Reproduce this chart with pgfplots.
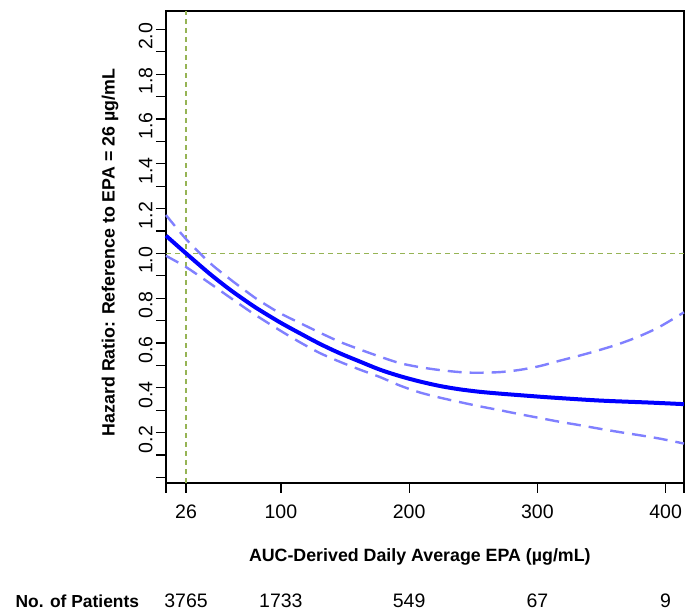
\documentclass[border=0pt]{standalone}
\usepackage{fontspec}
\setmainfont{Liberation Sans}
\usepackage{pgfplots}
\pgfplotsset{compat=1.18}
\definecolor{mainblue}{RGB}{0,0,255}
\definecolor{ciblue}{RGB}{128,128,255}
\definecolor{refgreen}{RGB}{150,180,85}
\begin{document}
\begin{tikzpicture}
\path[use as bounding box] (0,0) rectangle (685pt,612pt);
\begin{axis}[
  at={(166pt,129pt)}, anchor=south west,
  width=518pt, height=472pt, scale only axis,
  xmin=10.4, xmax=414.3, ymin=-0.025, ymax=2.082,
  clip=false,
  axis line style={line width=1.2pt},
  every tick/.style={black, line width=1.2pt},
  tick align=outside,
  major tick length=10pt,
  xtick pos=left, ytick pos=left,
  xtick={26,100,200,300,400},
  xticklabels={26,100,200,300,400},
  extra x ticks={10.4,414.3},
  extra x tick labels={},
  extra x tick style={grid=none},
  ytick={0,0.1,0.2,0.3,0.4,0.5,0.6,0.7,0.8,0.9,1.0,1.1,1.2,1.3,1.4,1.5,1.6,1.7,1.8,1.9,2.0},
  yticklabels={,,0.2,,0.4,,0.6,,0.8,,1.0,,1.2,,1.4,,1.6,,1.8,,2.0},
  ticklabel style={font=\fontsize{19.5}{21}\selectfont},
  xticklabel style={yshift=-8pt},
  yticklabel style={rotate=90, anchor=south, xshift=-7pt},
  label style={font=\fontsize{17.8}{20}\selectfont\bfseries},
  xlabel={AUC-Derived Daily Average EPA (µg/mL)},
  ylabel={Hazard Ratio: Reference to EPA = 26 µg/mL},
  xlabel style={at={(axis description cs:0.490,-0.156)}, anchor=center},
  ylabel style={at={(axis description cs:-0.108,0.488)}, anchor=center},
]
% reference lines
\addplot[refgreen, line width=1.6pt, dash pattern=on 5pt off 4pt] coordinates {(26,-0.025) (26,2.082)};
\addplot[refgreen, line width=1.6pt, dash pattern=on 5pt off 4pt] coordinates {(10.4,1) (414.3,1)};
% upper CI
\addplot[ciblue, line width=2.4pt, dash pattern=on 14pt off 8pt, smooth] coordinates {
(10.4,1.171) (26.0,1.064) (44.7,0.957) (60.3,0.885) (75.9,0.818) (83.7,0.787)
(99.3,0.733) (114.9,0.689) (130.4,0.646) (146.0,0.605) (161.6,0.571) (177.2,0.539)
(192.8,0.510) (208.4,0.492) (224.0,0.479) (239.6,0.470) (252.0,0.467) (270.7,0.470)
(286.3,0.480) (301.9,0.497) (317.5,0.521) (333.1,0.544) (348.7,0.569) (364.3,0.597)
(379.9,0.631) (395.5,0.673) (414.3,0.737)};
% lower CI
\addplot[ciblue, line width=2.4pt, dash pattern=on 14pt off 8pt, smooth] coordinates {
(10.4,0.989) (26.0,0.939) (44.7,0.866) (60.3,0.803) (75.9,0.741) (83.7,0.712)
(99.3,0.656) (114.9,0.603) (130.4,0.555) (146.0,0.516) (161.6,0.481) (177.2,0.448)
(192.8,0.410) (208.4,0.379) (224.0,0.356) (239.6,0.336) (255.2,0.317) (270.7,0.300)
(286.3,0.282) (301.9,0.265) (317.5,0.248) (333.1,0.233) (348.7,0.217) (364.3,0.202)
(379.9,0.188) (395.5,0.173) (414.3,0.151)};
% main estimate
\addplot[mainblue, line width=4pt, smooth] coordinates {
(10.4,1.079) (26.0,1.000) (44.7,0.908) (60.3,0.838) (75.9,0.775) (83.7,0.746)
(99.3,0.692) (114.9,0.643) (130.4,0.596) (146.0,0.554) (161.6,0.517) (177.2,0.481)
(192.8,0.452) (208.4,0.428) (224.0,0.408) (239.6,0.393) (255.2,0.382) (270.7,0.374)
(286.3,0.367) (309.7,0.357) (348.7,0.343) (387.6,0.334) (414.3,0.327)};
% patients row
\node[anchor=west, font=\fontsize{17.4}{20}\selectfont\bfseries] at (axis cs:-109.6,-0.552) {No. of Patients};
\node[font=\fontsize{19.5}{21}\selectfont] at (axis cs:26,-0.552) {3765};
\node[font=\fontsize{19.5}{21}\selectfont] at (axis cs:100,-0.552) {1733};
\node[font=\fontsize{19.5}{21}\selectfont] at (axis cs:200,-0.552) {549};
\node[font=\fontsize{19.5}{21}\selectfont] at (axis cs:300,-0.552) {67};
\node[font=\fontsize{19.5}{21}\selectfont] at (axis cs:400,-0.552) {9};
\end{axis}
\end{tikzpicture}
\end{document}
